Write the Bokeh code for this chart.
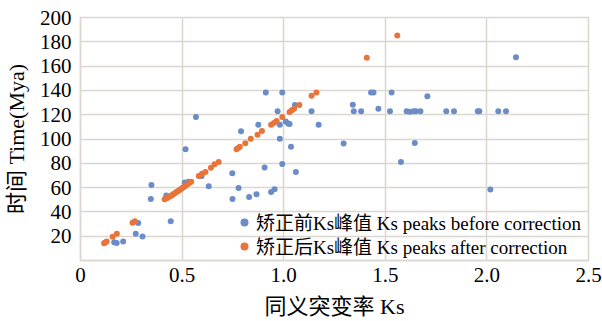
from bokeh.plotting import figure
from bokeh.models import ColumnDataSource, Legend, LegendItem, FixedTicker, Range1d
from bokeh.embed import file_html
from bokeh.resources import INLINE

before_ks = [0.166, 0.178, 0.210, 0.272, 0.284, 0.305, 0.346, 0.349, 0.422, 0.444,
             0.513, 0.532, 0.517, 0.568, 0.596, 0.631, 0.747, 0.748, 0.778, 0.790,
             0.830, 0.866, 0.875, 0.906, 0.912, 0.938, 0.955, 0.970, 0.981, 0.981,
             0.993, 0.993, 1.010, 1.022, 1.029, 1.036, 1.055, 1.060, 1.137, 1.172,
             1.295, 1.340, 1.345, 1.381, 1.430, 1.442, 1.466, 1.523, 1.531, 1.577,
             1.605, 1.621, 1.640, 1.650, 1.645, 1.673, 1.707, 1.800, 1.838, 1.955,
             1.963, 2.017, 2.056, 2.094, 2.143]
before_time = [15.0, 14.5, 15.7, 22.1, 30.9, 19.7, 50.7, 62.2, 53.6, 32.3,
               64.3, 64.8, 91.5, 118.2, 69.5, 61.1, 71.8, 50.6, 59.6, 106.4,
               52.3, 54.5, 111.8, 76.5, 138.2, 56.3, 58.6, 122.9, 111.8, 100.3,
               138.2, 79.5, 114.4, 112.8, 112.3, 93.6, 128.0, 72.8, 122.9, 111.8,
               96.3, 128.2, 122.9, 122.9, 138.2, 138.2, 124.8, 122.9, 138.2, 81.1,
               122.9, 122.4, 122.9, 122.9, 96.8, 122.9, 135.2, 122.9, 122.9, 122.9,
               122.9, 58.4, 122.9, 122.9, 167.2]

after_ks = [0.116, 0.122, 0.129, 0.158, 0.179, 0.256, 0.268,
            0.414, 0.424, 0.432, 0.440, 0.448, 0.456, 0.464, 0.472, 0.480, 0.488,
            0.496, 0.504, 0.512, 0.520, 0.528, 0.537, 0.545,
            0.582, 0.598, 0.615, 0.642, 0.660, 0.680,
            0.768, 0.776, 0.784, 0.811, 0.838, 0.871, 0.893,
            0.938, 0.952, 0.965, 0.993, 1.029, 1.040, 1.051, 1.077,
            1.137, 1.161, 1.409, 1.559]
after_time = [14.1, 14.8, 15.7, 19.5, 22.1, 31.0, 32.3,
              50.4, 51.2, 52.0, 52.8, 53.6, 54.5, 55.4, 56.3, 57.2, 58.0,
              59.0, 60.0, 61.0, 62.0, 63.0, 64.0, 64.8,
              69.6, 71.4, 72.8, 76.3, 79.3, 81.0,
              91.5, 92.5, 93.6, 96.5, 100.2, 103.4, 106.6,
              111.8, 113.2, 114.8, 118.2, 122.3, 123.6, 124.9, 128.0,
              135.5, 138.2, 166.9, 185.1]

x_ticks = [0, 0.5, 1.0, 1.5, 2.0, 2.5]
x_labels = ["0", "0.5", "1.0", "1.5", "2.0", "2.5"]
y_ticks = [0, 20, 40, 60, 80, 100, 120, 140, 160, 180, 200]
y_labels = ["", "20", "40", "60", "80", "100", "120", "140", "160", "180", "200"]

label_before = "矫正前Ks峰值 Ks peaks before correction"
label_after = "矫正后Ks峰值 Ks peaks after correction"
x_title = "同义突变率 Ks"
y_title = "时间 Time(Mya)"

FONT = "'Liberation Serif', 'Noto Sans CJK SC'"
GRID = "#dcd6d0"
BLUE = "#6a8cc7"
ORANGE = "#e8743a"

p = figure(width=602, height=321, output_backend="svg", toolbar_location=None,
           x_range=Range1d(0, 2.5), y_range=Range1d(0, 200),
           min_border_left=77, min_border_right=14, min_border_top=17, min_border_bottom=54)
p.background_fill_color = "white"
p.border_fill_color = "white"
p.outline_line_color = GRID
p.outline_line_width = 1.5

p.xaxis.ticker = FixedTicker(ticks=x_ticks)
p.yaxis.ticker = FixedTicker(ticks=y_ticks)
p.xaxis.major_label_overrides = {t: l for t, l in zip(x_ticks, x_labels)}
p.yaxis.major_label_overrides = {t: l for t, l in zip(y_ticks, y_labels)}

for ax in (p.xaxis, p.yaxis):
    ax.axis_line_color = GRID
    ax.axis_line_width = 1.5
    ax.major_tick_line_color = None
    ax.minor_tick_line_color = None
    ax.major_tick_out = 0
    ax.major_tick_in = 0
    ax.minor_tick_out = 0
    ax.major_label_text_font = FONT
    ax.major_label_text_font_size = "21px"
    ax.major_label_text_color = "black"
    ax.axis_label_text_font = FONT
    ax.axis_label_text_font_size = "22px"
    ax.axis_label_text_font_style = "normal"
    ax.axis_label_text_color = "black"

p.xaxis.major_label_standoff = 7
p.yaxis.major_label_standoff = 9
p.xaxis.axis_label = x_title
p.yaxis.axis_label = y_title
p.xaxis.axis_label_standoff = 9
p.yaxis.axis_label_standoff = 8

p.xgrid.grid_line_color = GRID
p.ygrid.grid_line_color = GRID
p.xgrid.grid_line_width = 1.5
p.ygrid.grid_line_width = 1.5

src_b = ColumnDataSource(dict(x=before_ks, y=before_time))
src_a = ColumnDataSource(dict(x=after_ks, y=after_time))
rb = p.scatter("x", "y", source=src_b, size=6, fill_color=BLUE, line_color=None)
ra = p.scatter("x", "y", source=src_a, size=6, fill_color=ORANGE, line_color=None)


def make_legend(label, renderer, loc):
    lg = Legend(items=[LegendItem(label=label, renderers=[renderer])], location=loc)
    lg.background_fill_alpha = 0
    lg.border_line_color = None
    lg.padding = 0
    lg.margin = 0
    lg.spacing = 0
    lg.glyph_width = 20
    lg.glyph_height = 20
    lg.label_height = 20
    lg.label_standoff = 2
    lg.label_text_font = FONT
    lg.label_text_font_size = "19px"
    lg.label_text_color = "black"
    return lg


p.add_layout(make_legend(label_before, rb, (154, 25)), "center")
p.add_layout(make_legend(label_after, ra, (154, 1)), "center")

open("out.html", "w").write(file_html(p, INLINE))
